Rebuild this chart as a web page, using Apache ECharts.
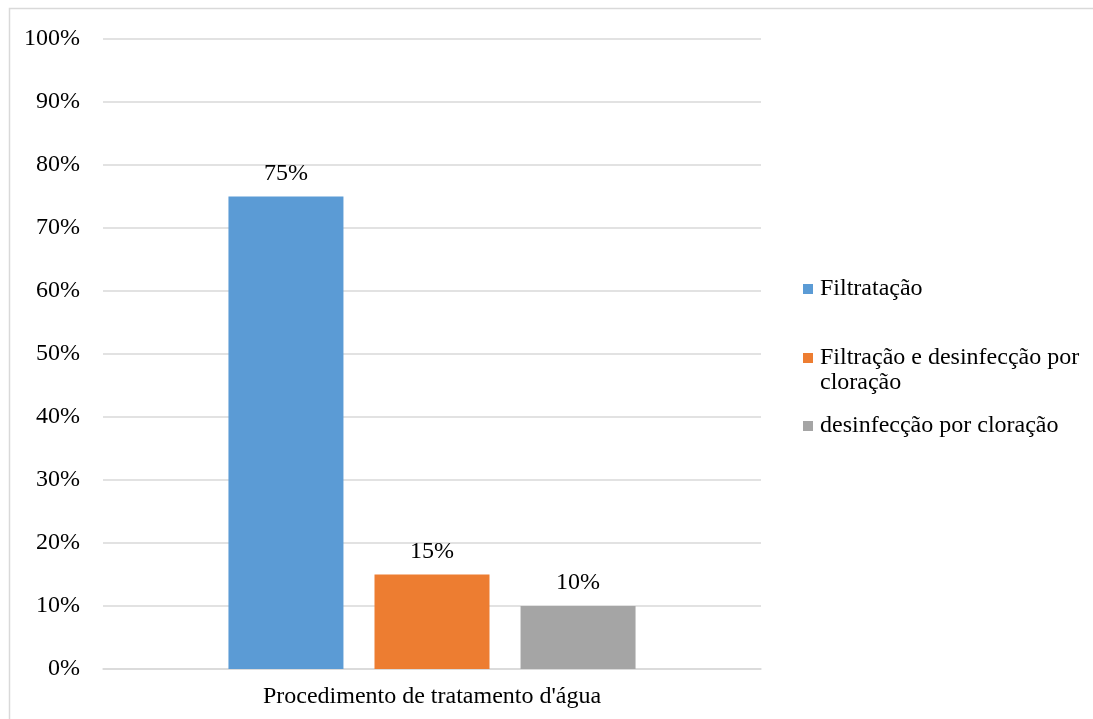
<!DOCTYPE html>
<html>
<head>
<meta charset="utf-8">
<script src="https://cdn.jsdelivr.net/npm/echarts@6/dist/echarts.min.js"></script>
<style>
  html, body { margin: 0; padding: 0; background: #fff; }
  #chart { width: 1093px; height: 719px; }
</style>
</head>
<body>
<div id="chart"></div>
<script>
  // dados do gráfico
  var categories = ["Procedimento de tratamento d'água"];
  var seriesNames = ['Filtratação', 'Filtração e desinfecção por cloração', 'desinfecção por cloração'];
  // a linha vazia no início mantém o ícone alinhado com a primeira linha do texto
  var legendLabels = ['Filtratação', ' \nFiltração e desinfecção por\ncloração', 'desinfecção por cloração'];
  var seriesValues = [[75], [15], [10]];
  var colors = ['#5B9BD5', '#ED7D31', '#A5A5A5'];
  var yMax = 100, yStep = 10;

  var font = "'Liberation Serif', 'Times New Roman', serif";
  var fontSize = 24;
  var chart = echarts.init(document.getElementById('chart'));

  var series = seriesNames.map(function (name, i) {
    return {
      name: name,
      type: 'bar',
      data: seriesValues[i],
      barWidth: 115,
      barGap: '27%',
      itemStyle: { color: colors[i] },
      label: {
        show: true,
        position: 'top',
        distance: 11,
        formatter: '{c}%',
        color: '#000',
        fontFamily: font,
        fontSize: fontSize
      }
    };
  });

  // uma legenda por item, para posicionar como no original
  var legendTops = [276.5, 320.5, 413.5];
  var legends = seriesNames.map(function (name, i) {
    return {
      data: [name],
      left: 803,
      top: legendTops[i],
      padding: 0,
      orient: 'vertical',
      itemWidth: 10,
      itemHeight: 10,
      selectedMode: false,
      icon: 'rect',
      formatter: function () { return legendLabels[i]; },
      textStyle: {
        color: '#000',
        fontFamily: font,
        fontSize: fontSize,
        lineHeight: 25,
        padding: [0, 0, 0, 2]
      }
    };
  });

  var option = {
    backgroundColor: '#fff',
    animation: false,
    color: colors,
    graphic: [{
      type: 'polyline',
      shape: { points: [[9.5, 760], [9.5, 8.5], [1150, 8.5]] },
      style: { fill: 'none', stroke: '#d9d9d9', lineWidth: 1.5 },
      silent: true
    }],
    legend: legends,
    grid: { left: 103, right: 332, top: 39, bottom: 50 },
    xAxis: {
      type: 'category',
      data: categories,
      axisTick: { show: false },
      axisLine: { lineStyle: { color: '#d9d9d9', width: 1.5 } },
      axisLabel: { color: '#000', fontFamily: font, fontSize: fontSize, margin: 16 }
    },
    yAxis: {
      type: 'value',
      min: 0,
      max: yMax,
      interval: yStep,
      axisLine: { show: false },
      axisTick: { show: false },
      axisLabel: { formatter: '{value}%', color: '#000', fontFamily: font, fontSize: fontSize, margin: 23 },
      splitLine: { lineStyle: { color: '#d9d9d9', width: 1.5 } }
    },
    series: series
  };

  chart.setOption(option);
</script>
</body>
</html>
